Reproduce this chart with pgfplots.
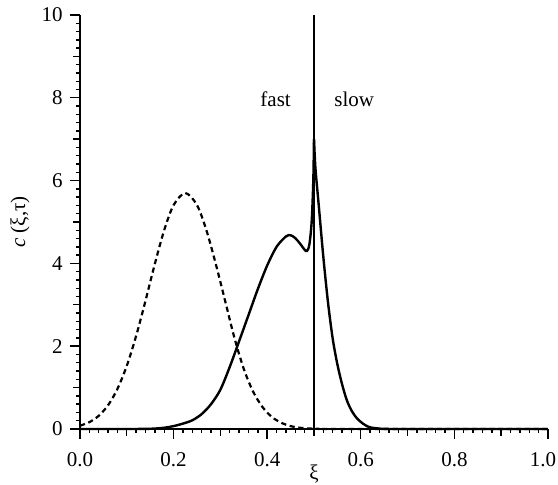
\documentclass[border=0pt]{standalone}
\usepackage{fontspec}
\setmainfont{Liberation Serif}
\usepackage{pgfplots}
\pgfplotsset{compat=1.18}
\usetikzlibrary{calc}

\begin{document}
\fontsize{10.5}{12}\selectfont
\begin{tikzpicture}
\begin{axis}[
    name=ax,
    scale only axis,
    width=234pt, height=207pt,
    xmin=0, xmax=1, ymin=0, ymax=10,
    axis lines=left,
    axis line style={-, line width=0.9pt},
    tick align=outside,
    xtick={0,0.2,...,1.0},
    ytick={0,2,...,10},
    xticklabels={0.0,0.2,0.4,0.6,0.8,1.0\hspace*{5pt}},
    xticklabel style={yshift=-3pt},
    minor x tick num=9,
    minor y tick num=9,
    major tick length=5pt,
    minor tick length=2pt,
    every tick/.style={black, line width=0.7pt},
    extra x ticks={0.1,0.3,0.5,0.7,0.9},
    extra x tick labels={},
    extra y ticks={1,3,5,7,9},
    extra y tick labels={},
    extra tick style={major tick length=3.3pt},
    /pgf/number format/assume math mode=true,
    xlabel={ξ},
    ylabel={\textit{c} (ξ,τ)},
    xlabel style={at={(rel axis cs:0.5,-0.1256)}, anchor=base, inner sep=0pt, yshift=0.5pt},
    ylabel style={at={(rel axis cs:-0.1154,0.5)}, anchor=center, inner sep=0pt, yshift=3pt},
    clip=false,
]
% dashed profile
\addplot[black, line width=1.1pt, dash pattern=on 2.6pt off 1.8pt, smooth] coordinates {
(0.00,0.080) (0.02,0.165) (0.04,0.318) (0.06,0.574) (0.08,0.968)
(0.10,1.526) (0.12,2.250) (0.14,3.099) (0.16,3.992) (0.18,4.805)
(0.20,5.408) (0.225,5.70) (0.25,5.408) (0.27,4.805) (0.29,3.992)
(0.31,3.099) (0.33,2.200) (0.35,1.450) (0.37,0.900) (0.39,0.530)
(0.41,0.290) (0.43,0.150) (0.45,0.070) (0.47,0.030) (0.49,0.012)
(0.51,0.004) (0.55,0.0) (1.0,0.0)
};
% solid profile, left of the front
\addplot[black, line width=1.2pt, smooth] coordinates {
(0.00,0.0) (0.10,0.0) (0.15,0.005) (0.18,0.03) (0.20,0.07)
(0.22,0.13) (0.24,0.21) (0.26,0.36) (0.28,0.60) (0.30,0.95)
(0.32,1.50) (0.34,2.12) (0.36,2.75) (0.38,3.38) (0.40,3.95)
(0.42,4.40) (0.44,4.65) (0.45,4.68) (0.46,4.61) (0.47,4.48)
(0.48,4.33) (0.485,4.30) (0.49,4.45) (0.495,5.0) (0.4985,6.0) (0.5,7.0)
};
% solid profile, right of the front
\addplot[black, line width=1.2pt, smooth] coordinates {
(0.5,7.0) (0.503,6.31) (0.51,5.42) (0.52,4.15) (0.53,3.05) (0.54,2.18)
(0.55,1.56) (0.56,1.08) (0.57,0.70) (0.58,0.45) (0.59,0.28)
(0.60,0.17) (0.61,0.09) (0.62,0.04) (0.64,0.01) (0.68,0.0) (1.0,0.0)
};
% front position
\addplot[black, line width=0.6pt] coordinates {(0.5,0) (0.5,10)};
\node at (axis cs:0.418,7.97) {fast};
\node at (axis cs:0.586,7.97) {slow};
\end{axis}
\pgfresetboundingbox
\path ($(ax.south west)+(-40pt,-28pt)$) rectangle ($(ax.north east)+(5pt,7.5pt)$);
\end{tikzpicture}
\end{document}
